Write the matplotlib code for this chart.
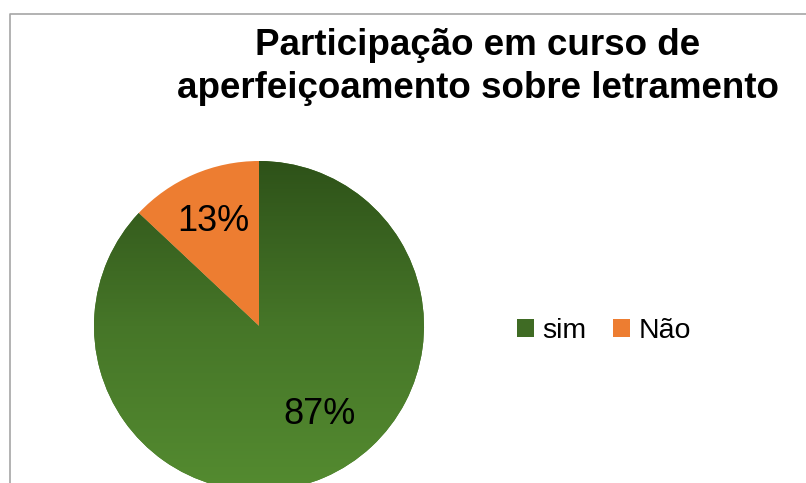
import numpy as np
import matplotlib.pyplot as plt
from matplotlib.colors import LinearSegmentedColormap

# --- Dados ---
categorias = ["sim", "Não"]
valores = [87, 13]
cores = ["#467628", "#ED7D31"]
titulo = "Participação em curso de\naperfeiçoamento sobre letramento"

plt.rcParams["font.family"] = ["Liberation Sans", "DejaVu Sans"]

W, H = 806, 483
fig = plt.figure(figsize=(W / 100, H / 100), dpi=100)
ax = fig.add_axes([0, 0, 1, 1])
ax.set_xlim(0, W)
ax.set_ylim(0, H)
ax.set_aspect("equal")
ax.axis("off")

# moldura do gráfico (só aparecem topo e lado esquerdo)
ax.plot([10, 10, W + 5], [-5, H - 14, H - 14], color="#a6a6a6", lw=1.2)

centro = (259, H - 326)
raio = 165

wedges, textos, autotextos = ax.pie(
    valores, colors=cores, startangle=90, counterclock=False,
    center=centro, radius=raio, autopct="%1.0f%%", pctdistance=0.69,
    textprops=dict(fontsize=26, color="black"),
    wedgeprops=dict(linewidth=0),
)
for t in textos:
    t.set_visible(False)

# rótulo da fatia grande um pouco deslocado, como no Excel
w0 = wedges[0]
ang = np.deg2rad((w0.theta1 + w0.theta2) / 2 + 11)
autotextos[0].set_position((centro[0] + 0.65 * raio * np.cos(ang),
                            centro[1] + 0.65 * raio * np.sin(ang)))

# gradiente vertical na fatia verde
cmap_verde = LinearSegmentedColormap.from_list("verde", ["#548B30", "#467628", "#2E5219"])
grad = np.linspace(0, 1, 256).reshape(-1, 1)
img = ax.imshow(grad, cmap=cmap_verde, origin="lower", aspect="auto",
                extent=[centro[0] - raio, centro[0] + raio, centro[1] - raio, centro[1] + raio],
                zorder=wedges[0].get_zorder() + 0.5)
img.set_clip_path(wedges[0])
for t in autotextos:
    t.set_zorder(5)

ax.set_xlim(0, W)
ax.set_ylim(0, H)

fig.text(478 / W, 1 - 67 / H, titulo, ha="center", va="center",
         fontsize=26.5, fontweight="bold", linespacing=1.3)

# legenda
ax.legend(wedges, categorias, loc="center left", bbox_to_anchor=(517 / W, 1 - 331 / H),
          bbox_transform=fig.transFigure, ncol=2, frameon=False, fontsize=20.5,
          borderpad=0, borderaxespad=0,
          handlelength=0.58, handleheight=0.58, handletextpad=0.3, columnspacing=0.95)
leg = ax.get_legend()
leg.legend_handles[0].set_facecolor("#3f6b24")

fig.savefig("out.png", dpi=100)
